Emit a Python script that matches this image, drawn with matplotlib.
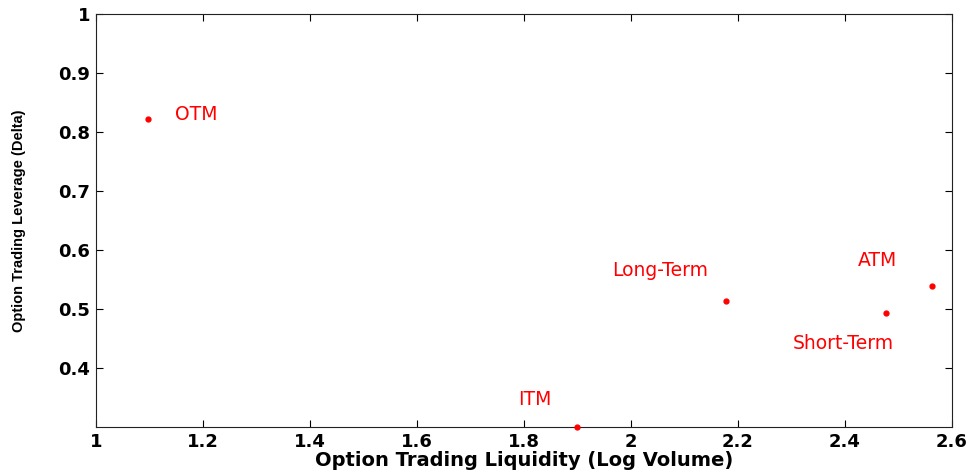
import matplotlib
matplotlib.use('Agg')
import matplotlib.pyplot as plt

### values
names = ['OTM', 'Long-Term', 'ATM', 'Short-Term', 'ITM']
liquidity = [1.097, 2.178, 2.564, 2.478, 1.899]
leverage = [0.822, 0.514, 0.539, 0.493, 0.300]
label_x = [1.148, 1.966, 2.424, 2.303, 1.789]
label_y = [0.830, 0.566, 0.583, 0.442, 0.347]

x_ticks = [1, 1.2, 1.4, 1.6, 1.8, 2, 2.2, 2.4, 2.6]
x_ticklabels = ['1', '1.2', '1.4', '1.6', '1.8', '2', '2.2', '2.4', '2.6']
y_ticks = [0.4, 0.5, 0.6, 0.7, 0.8, 0.9, 1]
y_ticklabels = ['0.4', '0.5', '0.6', '0.7', '0.8', '0.9', '1']

### wide font to mimic the stretched matlab rendering
plt.rcParams['font.family'] = ['DejaVu Sans']

fig = plt.figure(figsize=(9.75, 4.75), dpi=100)
ax = fig.add_axes([0.0985, 0.101, 0.8775, 0.8695])

### points and their labels
ax.plot(liquidity, leverage, linestyle='none', marker='o', markersize=3.5,
        color='red', clip_on=False, zorder=3)
for name, lx, ly in zip(names, label_x, label_y):
    ax.text(lx, ly, name, color='red', fontsize=13.5, ha='left', va='center')

ax.set_xlim(1, 2.6)
ax.set_ylim(0.3, 1.0)
ax.set_xticks(x_ticks)
ax.set_xticklabels(x_ticklabels, fontweight='bold', fontsize=13)
ax.set_yticks(y_ticks)
ax.set_yticklabels(y_ticklabels, fontweight='bold', fontsize=13)

ax.tick_params(axis='both', direction='in', length=5, width=0.8,
               top=True, right=True, pad=4)
for side in ax.spines:
    ax.spines[side].set_linewidth(0.8)
    ax.spines[side].set_color('#222222')

ax.set_xlabel('Option Trading Liquidity (Log Volume)', fontweight='bold',
              fontsize=14, labelpad=0)
ax.set_ylabel('Option Trading Leverage (Delta)', fontweight='bold',
              fontsize=10.5, family=['Liberation Sans'])
ax.yaxis.set_label_coords(-0.082, 0.5)

plt.savefig('out.png', dpi=100)
plt.close(fig)
